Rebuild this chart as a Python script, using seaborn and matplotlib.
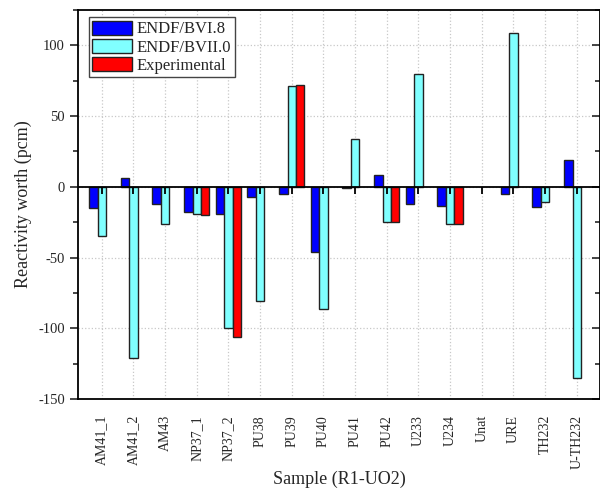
import numpy as np
import pandas as pd
import matplotlib
matplotlib.use('Agg')
import matplotlib.pyplot as plt
from matplotlib.ticker import MultipleLocator
import seaborn as sns

samples = ['AM41_1', 'AM41_2', 'AM43', 'NP37_1', 'NP37_2', 'PU38', 'PU39', 'PU40',
           'PU41', 'PU42', 'U233', 'U234', 'Unat', 'URE', 'TH232', 'U-TH232']
endf_b6 = [-15.3, 5.9, -12.3, -17.9, -19.1, -7.3, -5.2, -46.2,
           -0.9, 8.0, -12.0, -13.4, np.nan, -5.2, -14.1, 18.9]
endf_b7 = [-34.9, -121.2, -26.2, -18.9, -100.0, -81.0, 71.6, -86.3,
           33.9, -25.0, 79.9, -26.2, np.nan, 108.7, -10.8, -135.0]
experimental = [np.nan, np.nan, np.nan, -19.6, -105.9, np.nan, 72.1, np.nan,
                np.nan, -25.0, np.nan, -26.6, np.nan, np.nan, np.nan, np.nan]
series = ['ENDF/BVI.8', 'ENDF/BVII.0', 'Experimental']
colors = ['#0000ff', '#80ffff', '#ff0000']

sns.set_style('white')
plt.rcParams['font.family'] = ['Liberation Serif', 'DejaVu Serif']
plt.rcParams['axes.unicode_minus'] = False

df = pd.DataFrame({
    'sample': samples * 3,
    'value': endf_b6 + endf_b7 + experimental,
    'series': [s for s in series for _ in samples],
})

fig = plt.figure(figsize=(6, 4.88), dpi=100)
ax = fig.add_axes([0.13, 0.1824, 0.8708, 0.7971])

sns.barplot(data=df, x='sample', y='value', hue='series', order=samples,
            hue_order=series, palette=colors, width=0.8, edgecolor='#222222',
            linewidth=1.0, saturation=1, errorbar=None, ax=ax, zorder=2)

# zero line with the category ticks hanging from it
ax.axhline(0, color='black', lw=1.3, zorder=3)
ax.plot(range(len(samples)), np.zeros(len(samples)), ls='none', marker=3,
        ms=5, mew=1.3, color='black', zorder=4, clip_on=False)

ax.set_xlim(-0.75, len(samples) - 0.25)
ax.set_ylim(-150, 125)
ax.yaxis.set_major_locator(MultipleLocator(50))
ax.yaxis.set_minor_locator(MultipleLocator(25))
ax.grid(True, which='major', ls=':', color='#c8c8c8', lw=0.9, zorder=0)
ax.set_axisbelow(True)

ax.tick_params(axis='y', which='major', left=True, right=True, direction='out',
               length=6, width=1.2, labelsize=10.5)
ax.tick_params(axis='y', which='minor', left=True, right=True, direction='out',
               length=3.5, width=1.2)
ax.tick_params(axis='x', which='both', bottom=False, labelsize=10,
               labelrotation=90, pad=8)
for side in ['left', 'right', 'top', 'bottom']:
    ax.spines[side].set_visible(True)
    ax.spines[side].set_linewidth(1.3)
    ax.spines[side].set_color('black')

# right-side ticks point inward
for line in ax.yaxis.get_ticklines(minor=False)[1::2]:
    line.set_marker(matplotlib.markers.TICKLEFT)
for line in ax.yaxis.get_ticklines(minor=True)[1::2]:
    line.set_marker(matplotlib.markers.TICKLEFT)

ax.set_xlabel('Sample (R1-UO2)', fontsize=13, labelpad=1)
ax.set_ylabel('Reactivity worth (pcm)', fontsize=13, labelpad=4)

ax.legend(loc='upper left', bbox_to_anchor=(0.014, 0.99), fontsize=12,
          frameon=True, fancybox=False, edgecolor='#444444', framealpha=1,
          handlelength=2.4, handleheight=0.95, labelspacing=0.08,
          borderpad=0.2, handletextpad=0.3, borderaxespad=0.2)

fig.savefig('out.png', dpi=100)
